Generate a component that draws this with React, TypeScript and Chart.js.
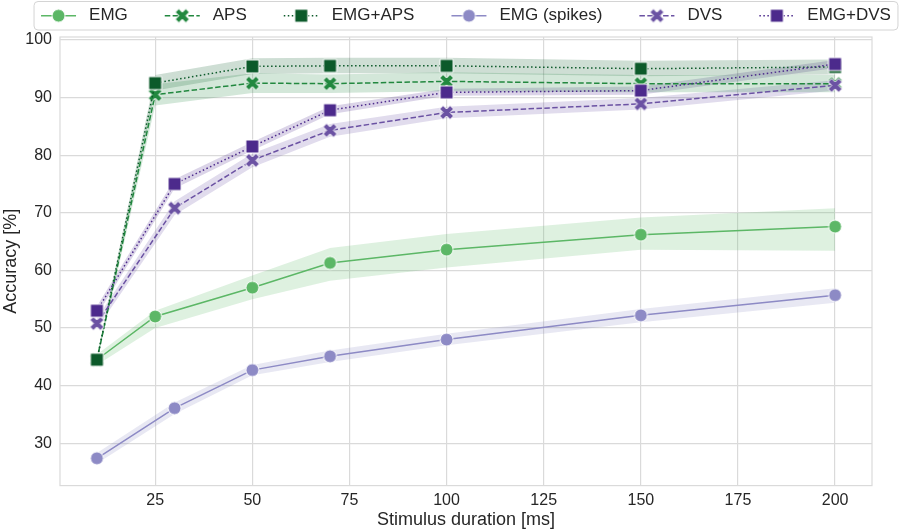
import { useEffect, useRef } from "react";
import { Chart, registerables } from "chart.js";

Chart.register(...registerables);

// data
const seriesNames = ["EMG", "APS", "EMG+APS", "EMG (spikes)", "DVS", "EMG+DVS"];
const durationsA = [10, 25, 50, 70, 100, 150, 200];
const durationsB = [10, 30, 50, 70, 100, 150, 200];

const emg = [44.5, 52.0, 57.0, 61.3, 63.6, 66.2, 67.6];
const emgLow = [43.6, 50.0, 55.0, 58.2, 60.5, 63.6, 63.4];
const emgHigh = [45.4, 53.0, 59.1, 63.9, 66.3, 69.2, 70.8];

const aps = [44.5, 90.5, 92.5, 92.4, 92.8, 92.4, 92.4];
const apsLow = [44.0, 88.6, 90.8, 90.8, 91.1, 90.9, 90.9];
const apsHigh = [45.0, 92.3, 94.2, 94.0, 94.4, 93.9, 93.9];

const emgAps = [44.5, 92.5, 95.4, 95.5, 95.5, 95.0, 95.3];
const emgApsLow = [44.0, 91.2, 94.1, 94.2, 94.2, 93.7, 94.0];
const emgApsHigh = [45.0, 93.9, 96.8, 96.9, 96.9, 96.4, 96.6];

const spikes = [27.4, 36.1, 42.7, 45.1, 48.0, 52.2, 55.7];
const spikesLow = [26.5, 35.1, 41.8, 44.1, 47.0, 51.0, 54.4];
const spikesHigh = [28.3, 37.1, 43.6, 46.1, 49.0, 53.3, 56.9];

const dvs = [50.8, 70.8, 79.1, 84.3, 87.4, 88.9, 92.1];
const dvsLow = [49.9, 69.6, 77.9, 83.2, 86.4, 87.9, 91.2];
const dvsHigh = [51.7, 72.0, 80.3, 85.4, 88.4, 89.9, 93.0];

const emgDvs = [53.0, 75.0, 81.5, 87.8, 90.9, 91.2, 95.8];
const emgDvsLow = [52.2, 74.2, 80.8, 87.1, 90.3, 90.5, 95.1];
const emgDvsHigh = [53.8, 75.8, 82.3, 88.5, 91.5, 91.9, 96.5];

const xTicks = [25, 50, 75, 100, 125, 150, 175, 200];
const yTicks = [30, 40, 50, 60, 70, 80, 90, 100];

// styles
const colors = ["#5cb766", "#22883f", "#0c5a2a", "#8d8ac5", "#6b52a3", "#4c2a8c"];
const dashes = [[], [5.5, 2.4], [1.5, 2.5], [], [5.5, 2.4], [1.5, 2.5]];
const markers = ["circle", "x", "square", "circle", "x", "square"];

const FONT = "'Liberation Sans', Arial, sans-serif";
const TEXT = "#262626";
const GRID = "#dadada";

const series = [
  { xs: durationsA, mean: emg, low: emgLow, high: emgHigh },
  { xs: durationsA, mean: aps, low: apsLow, high: apsHigh },
  { xs: durationsA, mean: emgAps, low: emgApsLow, high: emgApsHigh },
  { xs: durationsB, mean: spikes, low: spikesLow, high: spikesHigh },
  { xs: durationsB, mean: dvs, low: dvsLow, high: dvsHigh },
  { xs: durationsB, mean: emgDvs, low: emgDvsLow, high: emgDvsHigh },
];

const pts = (xs: number[], ys: number[]) => xs.map((x, i) => ({ x, y: ys[i] }));

function alpha(hex: string, a: number) {
  const n = parseInt(hex.slice(1), 16);
  return `rgba(${(n >> 16) & 255},${(n >> 8) & 255},${n & 255},${a})`;
}

function makeMarker(shape: string, color: string) {
  const c = document.createElement("canvas");
  c.width = 17;
  c.height = 17;
  const ctx = c.getContext("2d")!;
  const m = 8.5;
  ctx.fillStyle = color;
  ctx.strokeStyle = "#ffffff";
  ctx.lineWidth = 1;
  ctx.beginPath();
  if (shape === "circle") {
    ctx.arc(m, m, 6.5, 0, Math.PI * 2);
  } else if (shape === "square") {
    ctx.rect(m - 6.5, m - 6.5, 13, 13);
  } else {
    const v = [
      [-1, -2], [0, -1], [1, -2], [2, -1], [1, 0], [2, 1],
      [1, 2], [0, 1], [-1, 2], [-2, 1], [-1, 0], [-2, -1],
    ];
    const s = 14 / 4;
    v.forEach(([px, py], i) => {
      if (i === 0) ctx.moveTo(m + px * s, m + py * s);
      else ctx.lineTo(m + px * s, m + py * s);
    });
    ctx.closePath();
  }
  ctx.fill();
  ctx.stroke();
  return c;
}

const App = () => {
  const canvasRef = useRef<HTMLCanvasElement>(null);
  const chartRef = useRef<Chart | null>(null);

  useEffect(() => {
    document.body.style.margin = "0";
    if (!canvasRef.current) return;
    if (chartRef.current) chartRef.current.destroy();

    const markerImgs = series.map((_, i) => makeMarker(markers[i], colors[i]));

    const datasets: any[] = [];
    series.forEach((s, i) => {
      datasets.push({
        data: pts(s.xs, s.low),
        borderColor: "rgba(0,0,0,0)",
        borderWidth: 0,
        pointRadius: 0,
        fill: false,
        order: 100,
      });
      datasets.push({
        data: pts(s.xs, s.high),
        borderColor: "rgba(0,0,0,0)",
        borderWidth: 0,
        pointRadius: 0,
        fill: "-1",
        backgroundColor: alpha(colors[i], 0.2),
        order: 100,
      });
      datasets.push({
        label: seriesNames[i],
        data: pts(s.xs, s.mean),
        borderColor: colors[i],
        borderWidth: 1.5,
        borderDash: dashes[i],
        pointStyle: markerImgs[i],
        pointRadius: 6,
        fill: false,
        order: 6 - i,
      });
    });

    const framePlugin = {
      id: "frame",
      beforeDatasetsDraw(chart: any) {
        const { ctx, chartArea: a } = chart;
        ctx.save();
        ctx.strokeStyle = GRID;
        ctx.lineWidth = 1.2;
        ctx.strokeRect(a.left, a.top, a.right - a.left, a.bottom - a.top);
        ctx.restore();
      },
    };

    const legendPlugin = {
      id: "boxLegend",
      afterDraw(chart: any) {
        const { ctx, chartArea: a } = chart;
        ctx.save();
        ctx.font = `17px ${FONT}`;
        const lineW = 35;
        const gapText = 13;
        const gapItem = 37;
        const pad = 7;
        const widths = seriesNames.map((n) => lineW + gapText + ctx.measureText(n).width);
        const total = widths.reduce((p, w) => p + w, 0) + gapItem * (widths.length - 1) + pad * 2;
        const left = (a.left + a.right) / 2 - total / 2;
        const top = 1.5;
        const h = 28.5;
        const cy = top + h / 2;
        ctx.beginPath();
        ctx.roundRect(left, top, total, h, 4);
        ctx.fillStyle = "rgba(255,255,255,0.9)";
        ctx.fill();
        ctx.strokeStyle = "#d4d4d4";
        ctx.lineWidth = 1;
        ctx.stroke();
        let x = left + pad;
        seriesNames.forEach((n, i) => {
          ctx.beginPath();
          ctx.setLineDash(dashes[i]);
          ctx.strokeStyle = colors[i];
          ctx.lineWidth = 1.5;
          ctx.moveTo(x, cy);
          ctx.lineTo(x + lineW, cy);
          ctx.stroke();
          ctx.setLineDash([]);
          const img = markerImgs[i];
          ctx.drawImage(img, x + lineW / 2 - img.width / 2, cy - img.height / 2);
          ctx.fillStyle = TEXT;
          ctx.textBaseline = "middle";
          ctx.textAlign = "left";
          ctx.fillText(n, x + lineW + gapText, cy);
          x += widths[i] + gapItem;
        });
        ctx.restore();
      },
    };

    chartRef.current = new Chart(canvasRef.current, {
      type: "line",
      data: { datasets },
      options: {
        animation: false,
        responsive: false,
        layout: { padding: { top: 37, right: 27, left: 0, bottom: 0 } },
        plugins: {
          legend: { display: false },
          tooltip: { enabled: false },
        },
        scales: {
          x: {
            type: "linear",
            min: 0.5,
            max: 209.5,
            afterBuildTicks: (scale: any) => {
              scale.ticks = xTicks.map((v) => ({ value: v }));
            },
            afterFit: (scale: any) => {
              scale.height = 46.4;
            },
            grid: { color: GRID, lineWidth: 1.2, drawTicks: false },
            border: { display: false },
            ticks: { padding: 5, color: TEXT, font: { size: 16, family: FONT } },
            title: {
              display: true,
              text: "Stimulus duration [ms]",
              color: TEXT,
              font: { size: 18, family: FONT },
              padding: { top: 0, bottom: 1 },
            },
          },
          y: {
            min: 22.66,
            max: 100.5,
            afterBuildTicks: (scale: any) => {
              scale.ticks = yTicks.map((v) => ({ value: v }));
            },
            afterFit: (scale: any) => {
              scale.width = 60;
            },
            grid: { color: GRID, lineWidth: 1.2, drawTicks: false },
            border: { display: false },
            ticks: { padding: 8, color: TEXT, font: { size: 16, family: FONT } },
            title: {
              display: true,
              text: "Accuracy [%]",
              color: TEXT,
              font: { size: 18, family: FONT },
              padding: { top: 0, bottom: 0 },
            },
          },
        },
      } as any,
      plugins: [framePlugin, legendPlugin],
    });

    return () => {
      chartRef.current?.destroy();
      chartRef.current = null;
    };
  }, []);

  return (
    <div style={{ width: 899, height: 532, background: "#ffffff" }}>
      <canvas ref={canvasRef} width={899} height={532} />
    </div>
  );
};

export default App;
